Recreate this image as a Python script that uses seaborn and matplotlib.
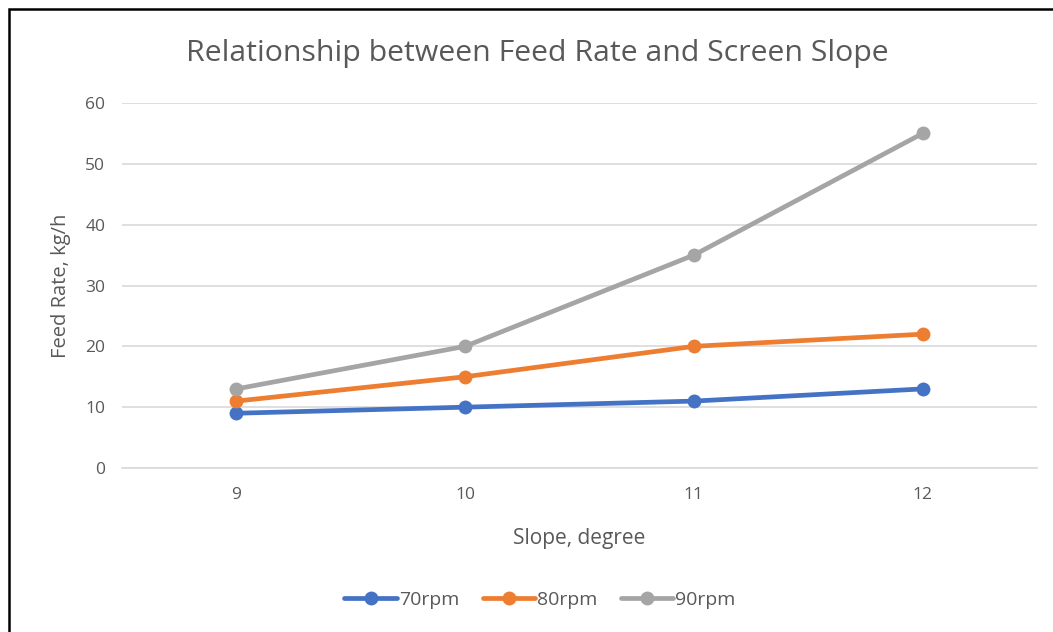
import matplotlib
matplotlib.use("Agg")
import matplotlib.pyplot as plt
import seaborn as sns
import pandas as pd
from matplotlib.patches import Rectangle

slopes = [9, 10, 11, 12]
rpm70 = [9, 10, 11, 13]
rpm80 = [11, 15, 20, 22]
rpm90 = [13, 20, 35, 55]
series_names = ["70rpm", "80rpm", "90rpm"]
colors = ["#4472C4", "#ED7D31", "#A5A5A5"]
yticks = [0, 10, 20, 30, 40, 50, 60]

df = pd.DataFrame({
    "Slope": slopes * 3,
    "Feed": rpm70 + rpm80 + rpm90,
    "Series": sum([[n] * len(slopes) for n in series_names], []),
})

sns.set_style("white")
plt.rcParams["font.family"] = ["Open Sans", "DejaVu Sans"]
txt = "#595959"

fig = plt.figure(figsize=(10.53, 6.32), dpi=100)
ax = fig.add_axes([122/1053, 1-468/632, (1037-122)/1053, (468-103)/632])

sns.lineplot(data=df, x="Slope", y="Feed", hue="Series", palette=colors,
             marker="o", markersize=10, markeredgewidth=0, linewidth=3.4,
             ax=ax, legend=True)

ax.set_xlim(8.5, 12.5)
ax.set_ylim(0, 60)
ax.set_xticks(slopes)
ax.set_xticklabels([str(s) for s in slopes])
ax.set_yticks(yticks)
ax.yaxis.grid(True, color="#D9D9D9", linewidth=1.2)
ax.set_axisbelow(True)
for s in ["top", "right", "left"]:
    ax.spines[s].set_visible(False)
ax.spines["bottom"].set_color("#D9D9D9")
ax.spines["bottom"].set_linewidth(1.2)
ax.tick_params(axis="both", length=0, labelsize=12.5, labelcolor=txt)
ax.tick_params(axis="x", pad=14)
ax.tick_params(axis="y", pad=12)
ax.set_xlabel("Slope, degree", fontsize=15, color=txt, labelpad=18)
ax.set_ylabel("Feed Rate, kg/h", fontsize=14.5, color=txt, labelpad=10)

fig.text(537/1053, 1-53/632, "Relationship between Feed Rate and Screen Slope",
         ha="center", va="center", fontsize=21.8, color=txt)

handles, labels = ax.get_legend_handles_labels()
ax.legend(handles, labels, loc="center", bbox_to_anchor=(540/1053, 1-600/632),
          bbox_transform=fig.transFigure, ncol=3, frameon=False,
          fontsize=14, labelcolor=txt, handlelength=2.7, handletextpad=0.1,
          columnspacing=1.2)

fig.patches.append(Rectangle((9/1053, -0.1), 1.2, 1-9/632+0.1, transform=fig.transFigure,
                             fill=False, edgecolor="black", linewidth=1.8))

fig.savefig("out.png", dpi=100)
